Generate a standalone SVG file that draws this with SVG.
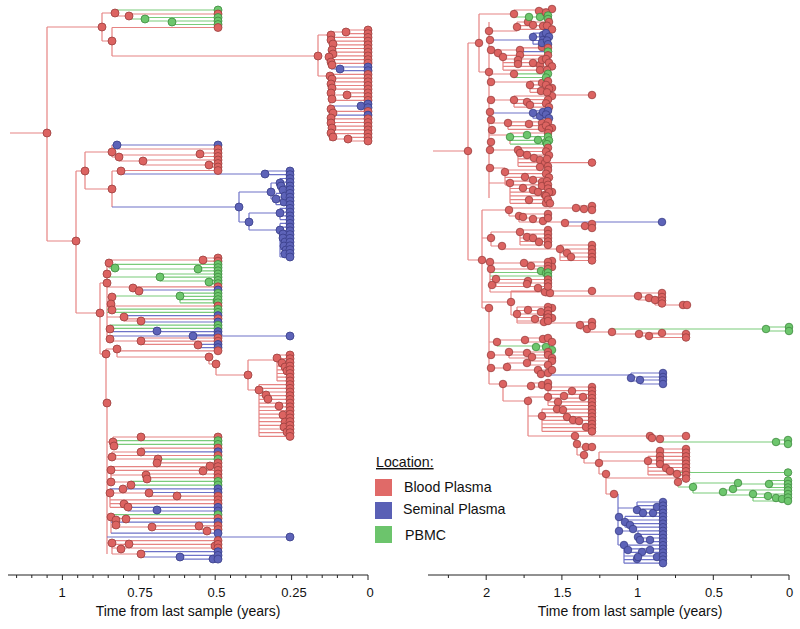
<svg xmlns="http://www.w3.org/2000/svg" width="800" height="629" viewBox="0 0 800 629">
<style>
path{fill:none;stroke-width:1.2}
.lr{stroke:#e68483}.lb{stroke:#6e73c8}.lg{stroke:#7acb7a}
.r{fill:#dc6361;stroke:#9b3f3e}.b{fill:#5d63b8;stroke:#383d88}.g{fill:#6dc66d;stroke:#3d8a3d}
circle{stroke-width:.8}
.ax{stroke:#222;stroke-width:1}
text{font-family:"Liberation Sans",Arial,sans-serif;fill:#111}
.tk{font-size:13px;text-anchor:middle}
.ti{font-size:14px;text-anchor:middle}
.lt{font-size:14.2px}
</style>
<rect width="800" height="629" fill="#fff"/>
<g id="left-connectors">
<path class="lr" d="M10,133H47M47,27V241M47,27H102M102,13V41M102,13H115M115,10V16M115,16H129M129,14V19M129,14H218M102,41H112M112,27.5V56M112,27.5H218M112,56H318M318,35V76M318,35H331M318,76H330M331,31V66M330,74V141M331,32H346M346,30V33.7M346,30H368M346,33.7H368M331,37.4H368M331,41.1H368M333,44.8H368M333,48.5H368M331,52.2H368M331,55.9H368M332,59.6H368M332,63.3H368M330,74.4H368M331,78.1H368M331,81.8H368M332,85.5H368M331,89.2H368M330,95H347M347,92.9V96.6M347,92.9H368M347,96.6H368M331,100.3H368M331,111.4H368M331,118.8H368M332,122.5H368M331,126.2H368M331,129.9H368M332,133.6H368M330,139H348M348,137.3V141M348,137.3H368M348,141H368M47,241H76M76,171V313M76,171H85M85,152V189M85,152H112M112,145V157M112,157H119M119,155V161M119,155H200M200,153V156.5M200,153H218M200,156.5H218M119,161H143M143,160V165M143,160H218M143,165H209M209,163.5V167M209,163.5H218M209,167H218M117,149H218M85,189H112M112,171V207M112,171H121M121,170.5V174M121,170.5H218M76,313H100M100,283V354M100,283H107M107,263V339M100,354H106M106,349V403M106,349H117M106,403H107M107,263H109M109,260V268M109,260H203M203,258V261.2M203,258H218M203,261.2H218M107,287H133M133,286.8V291M133,286.8H218M133,291H139M107,297H112M107,306H218M107,317H124M124,315.6V321M124,318.8H218M124,321H141M107,329H110M110,325.2V331.6M107,339H110M110,336V341M110,341H141M141,338V344.4M141,338H218M141,341.2H218M141,344.4H198M117,349V357M117,350.8H218M117,357H209M209,357V364M209,364H216M216,364V375M216,375H248M248,360V390M248,360H277M277,355V380.9M277,355H290M277,358.7H290M277,362.4H290M277,366.1H290M277,369.8H290M277,373.5H290M277,377.2H290M277,380.9H290M248,390H259M259,384.6V436.4M259,384.6H290M259,388.3H290M259,392H290M259,395.7H290M259,399.4H290M259,403.1H290M259,406.8H290M259,410.5H290M259,414.2H290M259,417.9H290M259,421.6H290M259,425.3H290M259,429H290M259,432.7H290M259,436.4H290M107,403V554M107,442H113M113,437V446M113,437H218M107,457H112M112,452V459M112,452H141M141,448.1V451.8M141,448.1H218M112,455.5H218M112,459H158M158,459.2V462.9M157,462.9H218M107,470H111M111,466.6V482M111,466.6H218M111,470.3H218M111,475H146M146,474V477.7M146,474H218M146,477.7H218M111,482H131M131,481.4V485.1M107,493H110M110,488.8V507.3M110,493H149M149,492.5V496.2M149,496.2H218M110,499.9H218M110,503.6H218M110,507.3H128M128,507.3V511M107,517H111M111,514.7V533.2M111,518.4H218M111,527H152M152,525.8V529.5M152,525.8H218M152,529.5H218M107,543H112M112,540.6V554M112,540.6H218M112,544.3H218M112,548H218M112,554H141M141,551.7V557"/>
<path class="lb" d="M331,69H340M340,67V70.7M340,67H368M340,70.7H368M331,106H361M361,104V107.7M361,104H368M361,107.7H368M330,115.1H368M112,145H117M117,145V149M117,145H218M121,174H265M265,171V174.7M265,171H290M265,174.7H290M112,207H239M239,192V222M239,192H271M271,183V199M271,183H280M280,178.5V189.7M280,178.5H290M280,182.2H290M280,186H290M280,189.7H290M271,199H276M276,193.4V204.7M276,193.4H290M276,197.2H290M276,200.9H290M276,204.7H290M239,222H249M249,213V230M249,213H280M280,208.4V219.6M280,208.4H290M280,212.1H290M280,215.9H290M280,219.6H290M249,230H280M280,223.4V257M280,223.4H290M280,227.1H290M280,230.8H290M280,234.6H290M280,238.3H290M280,242.1H290M280,245.8H290M280,249.5H290M280,253.3H290M280,257H290M139,290H218M124,315.6H218M141,322H218M110,331.6H218M110,336H193M193,334.8V336M193,334.8H218M193,336H290M198,344.4H218M198,344.4V347.6M198,347.6H218M141,451.8H218M110,488.8H218M149,492.5H218M128,507.3H218M128,511H218M111,522.1H218M111,533.2H218M107,537H290M141,551.7H218M141,557H180M180,555.4V559.1M180,555.4H218M180,559.1H218"/>
<path class="lg" d="M115,10H218M129,19H145M145,17.5V21M145,17.5H218M145,21H172M172,21V24.5M172,21H218M172,24.5H218M109,268H115M115,264.4V271M115,264.4H218M115,269H198M198,267.6V270.8M198,267.6H218M198,270.8H218M107,277H160M160,274V281M160,274H218M160,277.2H218M160,281H209M209,280.4V283.6M209,280.4H218M209,283.6H218M112,296H180M180,293.2V302.8M180,293.2H218M180,296.4H218M180,299.6H218M180,302.8H218M107,309.2H218M107,312.4H218M110,325.2H218M110,328.4H218M113,440.7H218M114,444.4H218M158,459.2H218M131,481.4H218M131,485.1H218M111,514.7H218"/>
</g>
<g id="right-connectors">
<path class="lr" d="M433,151H468M468,43V260M468,43H479M479,14V72M479,14H514M514,10V17M514,10H539M539,9V12.5M539,9H552M539,12.5H546M479,72H489M489,22V198M489,31H517M517,22V29.4M517,22H549M517,25.7H547M517,29.4H552M489,50H520M520,47.9V51.6M520,47.9H548M489,53H498M498,53V57M498,57H503M503,55.3V70.1M503,55.3H548M503,59H546M503,62.7H549M503,66.4H552M503,70.1H547M489,74H514M514,73.8V77.5M489,82H530M530,81.2V92.3M530,81.2H548M530,84.9H546M530,88.6H549M530,92.3H547M489,100H514M514,96V107.1M514,96H552M552,95H592M514,99.7H548M514,103.4H546M514,107.1H549M489,123H508M508,121.9V129.3M508,121.9H548M508,125.6H546M508,129.3H549M489,135H510M510,133V144.1M510,133H548M489,150H518M518,147.8V166.3M518,147.8H548M518,151.5H546M518,155.2H549M518,158.9H547M518,162.6H592M518,166.3H548M489,168H505M505,168V184.8M505,170H548M505,173.7H546M505,177.4H549M505,181.1H547M505,184.8H548M489,183H510M510,183V203.3M510,188.5H548M510,192.2H549M510,195.9H546M510,199.6H548M510,203.3H550M468,260H482M482,210V308M482,210H509M509,208V216M509,208H576M576,206V210M576,206H592M576,210H592M509,216H519M519,214V222M519,214H548M519,218H548M519,222H565M565,222V226M565,226H585M585,224V228M585,224H592M585,228H592M482,238H491M491,232V246M491,232H520M520,230V245M520,230H548M520,234H548M520,238H548M520,241.5H548M520,245H548M491,246H502M502,246V249M502,249H560M560,245V260.5M560,245H592M560,249H592M560,253H592M560,257H592M560,260.5H592M482,262H490M490,262V292M490,263H524M524,262V266M524,262H548M524,266H548M490,269H548M490,279.5H496M496,279.5V286.5M496,279.5H548M496,283H548M496,286.5H548M490,292H545M545,290V296M545,290H550M545,296H638M638,293V300M638,293H662M638,297H662M638,300H655M655,300V305M655,300.5H662M655,303.5H662M655,305H687M482,302H511M511,291V315M511,291H592M511,315H517M517,307V323M517,307H548M517,310.5H548M517,314H548M517,317.5H548M517,321H548M517,323H580M580,322V329M580,322H592M580,326H592M580,329H587M587,329V332M587,332H612M612,329V334M612,334H639M639,333V336M639,333H662M639,336H649M649,334V337.5M649,334H686M649,337.5H686M482,308H489M489,308V384M489,342H497M497,340V346M497,340H525M525,338V342M525,338H548M525,342H552M489,355H509M509,352V358M509,352H548M509,355H548M509,358H552M489,368H507M507,363V370M507,363H527M527,361V365M527,361H552M527,365H548M507,370H538M538,370V374M538,370H552M538,374H541M489,384H503M503,384V401M503,386H531M531,383V387M531,383H548M531,387H548M503,401H528M528,397V436M528,397H548M548,387V405.5M548,387H592M548,390.7H592M548,394.4H592M548,398.1H592M548,401.8H592M548,405.5H592M528,416H542M542,409.2V431.4M542,409.2H592M542,412.9H592M542,416.6H592M542,420.3H592M542,424H592M542,427.7H592M542,431.4H592M528,436H575M575,436V444M575,436H660M660,436V442M660,436H686M575,444H577M577,444V455M577,447H592M577,455H584M584,455V463M584,463H599M599,452V474M599,452H660M660,449V452.7M660,449H686M660,452.7H686M599,461H648M648,456.4V474.9M648,456.4H686M648,460.1H686M648,463.8H686M648,467.5H686M648,471.2H686M648,474.9H686M666,468V472.5M599,474H606M606,474V494M606,478H678M678,478.6V487M678,478.6H686M606,494H614"/>
<path class="lb" d="M489,40H533M533,33.1V44.2M533,33.1H546M533,36.8H549M533,40.5H547M533,44.2H548M520,51.6H548M489,113H533M533,110.8V118.2M533,110.8H548M533,114.5H546M533,118.2H549M565,222H662M541,375H631M631,373V381M631,373H663M631,377H663M631,381H640M640,380V384M640,380H663M640,384H663M614,494H618M618,494V545M618,508H637M637,502V512.8M637,502H663M637,505.6H663M637,509.2H663M637,512.8H663M618,520H625M625,516.4V527.2M625,516.4H663M625,520H663M625,523.6H663M625,527.2H663M618,531H638M638,530.8V541.6M638,530.8H663M638,534.4H663M638,538H663M638,541.6H663M618,545H624M624,545.2V563.2M624,545.2H663M624,548.8H663M624,552.4H663M624,556H663M624,559.6H663M624,563.2H663"/>
<path class="lg" d="M514,17H529M529,17H540M540,15.5V19M540,15.5H548M540,19H548M514,73.8H548M514,77.5H546M510,136.7H548M510,140.4H549M510,144.1H547M490,272.5H548M490,276H548M612,329H766M766,327V331M766,327H789M766,331H789M497,346H536M536,346V350M536,346H548M536,350H552M660,442H776M776,440V444M776,440H788M776,444H788M666,472.5H788M678,487H693M693,483V493M693,483H738M738,484H769M769,480.5V487.5M769,480.5H788M769,484H788M769,487.5H788M693,493H723M723,490V495M723,490H788M723,495H753M753,494V501M753,494H788M753,497.5H788M753,501H788"/>
</g>
<g id="left-internal-nodes">
<g class="r">
<circle cx="47" cy="133" r="4"/><circle cx="102" cy="27" r="4"/><circle cx="115" cy="13" r="4"/><circle cx="129" cy="16" r="4"/><circle cx="112" cy="41" r="4"/><circle cx="318" cy="56" r="4"/>
<circle cx="331" cy="35" r="4"/><circle cx="331" cy="40" r="4"/><circle cx="333" cy="44" r="4"/><circle cx="332" cy="50" r="4"/><circle cx="333" cy="54" r="4"/><circle cx="329" cy="57" r="4"/><circle cx="331" cy="62" r="4"/><circle cx="332" cy="65" r="4"/><circle cx="330" cy="76" r="4"/><circle cx="332" cy="79" r="4"/><circle cx="331" cy="84" r="4"/><circle cx="332" cy="88" r="4"/><circle cx="331" cy="93" r="4"/><circle cx="332" cy="99" r="4"/><circle cx="331" cy="109" r="4"/><circle cx="333" cy="113" r="4"/><circle cx="331" cy="118" r="4"/><circle cx="331" cy="123" r="4"/><circle cx="332" cy="128" r="4"/><circle cx="331" cy="133" r="4"/><circle cx="333" cy="137" r="4"/><circle cx="346" cy="32" r="4"/><circle cx="347" cy="95" r="4"/><circle cx="348" cy="139" r="4"/>
<circle cx="76" cy="241" r="4"/><circle cx="85" cy="171" r="4"/><circle cx="112" cy="152" r="4"/><circle cx="119" cy="157" r="4"/><circle cx="200" cy="154" r="4"/><circle cx="143" cy="161" r="4"/><circle cx="209" cy="165" r="4"/><circle cx="112" cy="189" r="4"/><circle cx="121" cy="171" r="4"/>
<circle cx="100" cy="313" r="4"/><circle cx="107" cy="283" r="4"/><circle cx="106" cy="354" r="4"/><circle cx="109" cy="263" r="4"/><circle cx="203" cy="260" r="4"/><circle cx="107" cy="274" r="4"/><circle cx="133" cy="288" r="4"/><circle cx="139" cy="291" r="4"/><circle cx="112" cy="297" r="4"/><circle cx="111" cy="304" r="4"/><circle cx="112" cy="310" r="4"/><circle cx="124" cy="317" r="4"/><circle cx="141" cy="321" r="4"/><circle cx="110" cy="329" r="4"/><circle cx="110" cy="339" r="4"/><circle cx="141" cy="341" r="4"/><circle cx="198" cy="345" r="4"/><circle cx="117" cy="349" r="4"/><circle cx="209" cy="357" r="4"/><circle cx="216" cy="364" r="4"/><circle cx="248" cy="375" r="4"/>
<circle cx="277" cy="358" r="4"/><circle cx="282" cy="363" r="4"/><circle cx="285" cy="367" r="4"/><circle cx="287" cy="371" r="4"/><circle cx="259" cy="390" r="4"/><circle cx="266" cy="395" r="4"/><circle cx="268" cy="399" r="4"/><circle cx="279" cy="406" r="4"/><circle cx="283" cy="415" r="4"/><circle cx="285" cy="422" r="4"/><circle cx="284" cy="427" r="4"/><circle cx="287" cy="432" r="4"/>
<circle cx="107" cy="403" r="4"/><circle cx="113" cy="442" r="4"/><circle cx="141" cy="437" r="4"/><circle cx="114" cy="446" r="4"/><circle cx="112" cy="457" r="4"/><circle cx="141" cy="452" r="4"/><circle cx="158" cy="459" r="4"/><circle cx="157" cy="463" r="4"/><circle cx="111" cy="470" r="4"/><circle cx="210" cy="466" r="4"/><circle cx="203" cy="471" r="4"/><circle cx="146" cy="475" r="4"/><circle cx="147" cy="479" r="4"/><circle cx="111" cy="482" r="4"/><circle cx="131" cy="485" r="4"/><circle cx="110" cy="493" r="4"/><circle cx="123" cy="489" r="4"/><circle cx="149" cy="493" r="4"/><circle cx="177" cy="496" r="4"/><circle cx="124" cy="504" r="4"/><circle cx="128" cy="507" r="4"/><circle cx="111" cy="517" r="4"/><circle cx="126" cy="519" r="4"/><circle cx="116" cy="520" r="4"/><circle cx="116" cy="525" r="4"/><circle cx="152" cy="527" r="4"/><circle cx="199" cy="526" r="4"/><circle cx="207" cy="531" r="4"/><circle cx="112" cy="543" r="4"/><circle cx="129" cy="544" r="4"/><circle cx="215" cy="546" r="4"/><circle cx="121" cy="549" r="4"/><circle cx="141" cy="554" r="4"/>
</g>
<g class="b">
<circle cx="340" cy="69" r="4"/><circle cx="361" cy="106" r="4"/><circle cx="117" cy="145" r="4"/><circle cx="265" cy="174" r="4"/><circle cx="239" cy="207" r="4"/><circle cx="271" cy="192" r="4"/><circle cx="280" cy="183" r="4"/><circle cx="276" cy="199" r="4"/><circle cx="284" cy="202" r="4"/><circle cx="249" cy="222" r="4"/><circle cx="280" cy="213" r="4"/><circle cx="280" cy="230" r="4"/><circle cx="283" cy="234" r="4"/><circle cx="283" cy="238" r="4"/><circle cx="285" cy="242" r="4"/><circle cx="284" cy="246" r="4"/><circle cx="286" cy="250" r="4"/><circle cx="285" cy="254" r="4"/><circle cx="281" cy="186" r="4"/><circle cx="283" cy="190" r="4"/><circle cx="285" cy="196" r="4"/>
<circle cx="157" cy="331" r="4"/><circle cx="193" cy="336" r="4"/><circle cx="157" cy="510" r="4"/><circle cx="180" cy="557" r="4"/><circle cx="213" cy="559" r="4"/>
</g>
<g class="g">
<circle cx="145" cy="19" r="4"/><circle cx="172" cy="22" r="4"/><circle cx="115" cy="268" r="4"/><circle cx="198" cy="269" r="4"/><circle cx="160" cy="277" r="4"/><circle cx="209" cy="282" r="4"/><circle cx="180" cy="296" r="4"/><circle cx="217" cy="301" r="4"/>
</g>
</g>
<g id="left-tips">
<circle class="g" cx="218" cy="10" r="4"/><circle class="r" cx="218" cy="14" r="4"/><circle class="g" cx="218" cy="17.5" r="4"/><circle class="g" cx="218" cy="21" r="4"/><circle class="g" cx="218" cy="24.5" r="4"/><circle class="r" cx="218" cy="27.5" r="4"/>
<circle class="r" cx="368" cy="30" r="4"/><circle class="r" cx="368" cy="33.7" r="4"/><circle class="r" cx="368" cy="37.4" r="4"/><circle class="r" cx="368" cy="41.1" r="4"/><circle class="r" cx="368" cy="44.8" r="4"/><circle class="r" cx="368" cy="48.5" r="4"/><circle class="r" cx="368" cy="52.2" r="4"/><circle class="r" cx="368" cy="55.9" r="4"/><circle class="r" cx="368" cy="59.6" r="4"/><circle class="r" cx="368" cy="63.3" r="4"/><circle class="b" cx="368" cy="67" r="4"/><circle class="b" cx="368" cy="70.7" r="4"/><circle class="r" cx="368" cy="74.4" r="4"/><circle class="r" cx="368" cy="78.1" r="4"/><circle class="r" cx="368" cy="81.8" r="4"/><circle class="r" cx="368" cy="85.5" r="4"/><circle class="r" cx="368" cy="89.2" r="4"/><circle class="r" cx="368" cy="92.9" r="4"/><circle class="r" cx="368" cy="96.6" r="4"/><circle class="r" cx="368" cy="100.3" r="4"/><circle class="b" cx="368" cy="104" r="4"/><circle class="b" cx="368" cy="107.7" r="4"/><circle class="r" cx="368" cy="111.4" r="4"/><circle class="b" cx="368" cy="115.1" r="4"/><circle class="r" cx="368" cy="118.8" r="4"/><circle class="r" cx="368" cy="122.5" r="4"/><circle class="r" cx="368" cy="126.2" r="4"/><circle class="r" cx="368" cy="129.9" r="4"/><circle class="r" cx="368" cy="133.6" r="4"/><circle class="r" cx="368" cy="137.3" r="4"/><circle class="r" cx="368" cy="141" r="4"/>
<circle class="b" cx="218" cy="145" r="4"/><circle class="r" cx="218" cy="149" r="4"/><circle class="r" cx="218" cy="153" r="4"/><circle class="r" cx="218" cy="156.5" r="4"/><circle class="r" cx="218" cy="160" r="4"/><circle class="r" cx="218" cy="163.5" r="4"/><circle class="r" cx="218" cy="167" r="4"/><circle class="r" cx="218" cy="170.5" r="4"/>
<g class="b"><circle cx="290" cy="171" r="4"/><circle cx="290" cy="174.7" r="4"/><circle cx="290" cy="178.5" r="4"/><circle cx="290" cy="182.2" r="4"/><circle cx="290" cy="186" r="4"/><circle cx="290" cy="189.7" r="4"/><circle cx="290" cy="193.4" r="4"/><circle cx="290" cy="197.2" r="4"/><circle cx="290" cy="200.9" r="4"/><circle cx="290" cy="204.7" r="4"/><circle cx="290" cy="208.4" r="4"/><circle cx="290" cy="212.1" r="4"/><circle cx="290" cy="215.9" r="4"/><circle cx="290" cy="219.6" r="4"/><circle cx="290" cy="223.4" r="4"/><circle cx="290" cy="227.1" r="4"/><circle cx="290" cy="230.8" r="4"/><circle cx="290" cy="234.6" r="4"/><circle cx="290" cy="238.3" r="4"/><circle cx="290" cy="242.1" r="4"/><circle cx="290" cy="245.8" r="4"/><circle cx="290" cy="249.5" r="4"/><circle cx="290" cy="253.3" r="4"/><circle cx="290" cy="257" r="4"/><circle cx="290" cy="336" r="4"/><circle cx="290" cy="537" r="4"/></g>
<circle class="r" cx="218" cy="258" r="4"/><circle class="r" cx="218" cy="261.2" r="4"/><circle class="g" cx="218" cy="264.4" r="4"/><circle class="g" cx="218" cy="267.6" r="4"/><circle class="g" cx="218" cy="270.8" r="4"/><circle class="g" cx="218" cy="274" r="4"/><circle class="g" cx="218" cy="277.2" r="4"/><circle class="g" cx="218" cy="280.4" r="4"/><circle class="g" cx="218" cy="283.6" r="4"/><circle class="r" cx="218" cy="286.8" r="4"/><circle class="b" cx="218" cy="290" r="4"/><circle class="g" cx="218" cy="293.2" r="4"/><circle class="g" cx="218" cy="296.4" r="4"/><circle class="g" cx="218" cy="299.6" r="4"/><circle class="g" cx="218" cy="302.8" r="4"/><circle class="r" cx="218" cy="306" r="4"/><circle class="g" cx="218" cy="309.2" r="4"/><circle class="g" cx="218" cy="312.4" r="4"/><circle class="b" cx="218" cy="315.6" r="4"/><circle class="r" cx="218" cy="318.8" r="4"/><circle class="b" cx="218" cy="322" r="4"/><circle class="g" cx="218" cy="325.2" r="4"/><circle class="g" cx="218" cy="328.4" r="4"/><circle class="b" cx="218" cy="331.6" r="4"/><circle class="b" cx="218" cy="334.8" r="4"/><circle class="r" cx="218" cy="338" r="4"/><circle class="r" cx="218" cy="341.2" r="4"/><circle class="b" cx="218" cy="344.4" r="4"/><circle class="b" cx="218" cy="347.6" r="4"/><circle class="r" cx="218" cy="350.8" r="4"/>
<g class="r"><circle cx="290" cy="355" r="4"/><circle cx="290" cy="358.7" r="4"/><circle cx="290" cy="362.4" r="4"/><circle cx="290" cy="366.1" r="4"/><circle cx="290" cy="369.8" r="4"/><circle cx="290" cy="373.5" r="4"/><circle cx="290" cy="377.2" r="4"/><circle cx="290" cy="380.9" r="4"/><circle cx="290" cy="384.6" r="4"/><circle cx="290" cy="388.3" r="4"/><circle cx="290" cy="392" r="4"/><circle cx="290" cy="395.7" r="4"/><circle cx="290" cy="399.4" r="4"/><circle cx="290" cy="403.1" r="4"/><circle cx="290" cy="406.8" r="4"/><circle cx="290" cy="410.5" r="4"/><circle cx="290" cy="414.2" r="4"/><circle cx="290" cy="417.9" r="4"/><circle cx="290" cy="421.6" r="4"/><circle cx="290" cy="425.3" r="4"/><circle cx="290" cy="429" r="4"/><circle cx="290" cy="432.7" r="4"/><circle cx="290" cy="436.4" r="4"/></g>
<circle class="r" cx="218" cy="437" r="4"/><circle class="g" cx="218" cy="440.7" r="4"/><circle class="g" cx="218" cy="444.4" r="4"/><circle class="r" cx="218" cy="448.1" r="4"/><circle class="b" cx="218" cy="451.8" r="4"/><circle class="r" cx="218" cy="455.5" r="4"/><circle class="g" cx="218" cy="459.2" r="4"/><circle class="r" cx="218" cy="462.9" r="4"/><circle class="r" cx="218" cy="466.6" r="4"/><circle class="r" cx="218" cy="470.3" r="4"/><circle class="r" cx="218" cy="474" r="4"/><circle class="r" cx="218" cy="477.7" r="4"/><circle class="g" cx="218" cy="481.4" r="4"/><circle class="g" cx="218" cy="485.1" r="4"/><circle class="b" cx="218" cy="488.8" r="4"/><circle class="b" cx="218" cy="492.5" r="4"/><circle class="r" cx="218" cy="496.2" r="4"/><circle class="r" cx="218" cy="499.9" r="4"/><circle class="r" cx="218" cy="503.6" r="4"/><circle class="b" cx="218" cy="507.3" r="4"/><circle class="b" cx="218" cy="511" r="4"/><circle class="g" cx="218" cy="514.7" r="4"/><circle class="r" cx="218" cy="518.4" r="4"/><circle class="b" cx="218" cy="522.1" r="4"/><circle class="r" cx="218" cy="525.8" r="4"/><circle class="r" cx="218" cy="529.5" r="4"/><circle class="b" cx="218" cy="533.2" r="4"/><circle class="r" cx="218" cy="540.6" r="4"/><circle class="r" cx="218" cy="544.3" r="4"/><circle class="r" cx="218" cy="548" r="4"/><circle class="b" cx="218" cy="551.7" r="4"/><circle class="b" cx="218" cy="555.4" r="4"/><circle class="b" cx="218" cy="559.1" r="4"/>
</g>
<g id="right-internal-nodes">
<g class="r">
<circle cx="468" cy="151" r="3.8"/><circle cx="479" cy="43" r="3.8"/><circle cx="514" cy="14" r="3.8"/><circle cx="539" cy="11" r="3.8"/><circle cx="489" cy="72" r="3.8"/>
<circle cx="489" cy="31" r="3.8"/><circle cx="517" cy="27" r="3.8"/><circle cx="528" cy="22" r="3.8"/><circle cx="533" cy="25" r="3.8"/><circle cx="543" cy="26" r="3.8"/><circle cx="490" cy="40" r="3.8"/><circle cx="542" cy="47" r="3.8"/><circle cx="491" cy="50" r="3.8"/><circle cx="520" cy="50" r="3.8"/><circle cx="498" cy="53" r="3.8"/><circle cx="503" cy="57" r="3.8"/><circle cx="520" cy="55" r="3.8"/><circle cx="518" cy="60" r="3.8"/><circle cx="533" cy="63" r="3.8"/><circle cx="540" cy="65" r="3.8"/><circle cx="542" cy="60" r="3.8"/><circle cx="540" cy="70" r="3.8"/><circle cx="518" cy="64" r="3.8"/><circle cx="514" cy="74" r="3.8"/><circle cx="491" cy="82" r="3.8"/><circle cx="530" cy="85" r="3.8"/><circle cx="542" cy="83" r="3.8"/><circle cx="552" cy="88" r="3.8"/><circle cx="541" cy="91" r="3.8"/><circle cx="491" cy="100" r="3.8"/><circle cx="514" cy="100" r="3.8"/><circle cx="527" cy="102" r="3.8"/><circle cx="530" cy="105" r="3.8"/><circle cx="552" cy="96" r="3.8"/><circle cx="490" cy="112" r="3.8"/><circle cx="491" cy="120" r="3.8"/><circle cx="508" cy="123" r="3.8"/><circle cx="529" cy="124" r="3.8"/><circle cx="542" cy="123" r="3.8"/><circle cx="542" cy="128" r="3.8"/><circle cx="552" cy="128" r="3.8"/><circle cx="492" cy="130" r="3.8"/><circle cx="491" cy="142" r="3.8"/><circle cx="490" cy="150" r="3.8"/><circle cx="518" cy="150" r="3.8"/><circle cx="520" cy="153" r="3.8"/><circle cx="527" cy="155" r="3.8"/><circle cx="534" cy="158" r="3.8"/><circle cx="540" cy="160" r="3.8"/><circle cx="545" cy="163" r="3.8"/><circle cx="540" cy="167" r="3.8"/><circle cx="490" cy="168" r="3.8"/><circle cx="505" cy="172" r="3.8"/><circle cx="525" cy="177" r="3.8"/><circle cx="533" cy="180" r="3.8"/><circle cx="542" cy="182" r="3.8"/><circle cx="542" cy="186" r="3.8"/><circle cx="510" cy="183" r="3.8"/><circle cx="523" cy="188" r="3.8"/><circle cx="533" cy="190" r="3.8"/><circle cx="538" cy="192" r="3.8"/><circle cx="545" cy="195" r="3.8"/><circle cx="552" cy="192" r="3.8"/><circle cx="529" cy="200" r="3.8"/><circle cx="546" cy="203" r="3.8"/>
<circle cx="482" cy="260" r="3.8"/><circle cx="509" cy="210" r="3.8"/><circle cx="576" cy="208" r="3.8"/><circle cx="584" cy="209" r="3.8"/><circle cx="519" cy="216" r="3.8"/><circle cx="523" cy="217" r="3.8"/><circle cx="533" cy="219" r="3.8"/><circle cx="543" cy="221" r="3.8"/><circle cx="565" cy="223" r="3.8"/><circle cx="585" cy="226" r="3.8"/><circle cx="491" cy="238" r="3.8"/><circle cx="520" cy="232" r="3.8"/><circle cx="527" cy="237" r="3.8"/><circle cx="533" cy="238" r="3.8"/><circle cx="539" cy="242" r="3.8"/><circle cx="502" cy="246" r="3.8"/><circle cx="560" cy="249" r="3.8"/><circle cx="567" cy="253" r="3.8"/><circle cx="571" cy="257" r="3.8"/><circle cx="490" cy="262" r="3.8"/><circle cx="524" cy="263" r="3.8"/><circle cx="531" cy="266" r="3.8"/><circle cx="552" cy="261" r="3.8"/><circle cx="552" cy="267" r="3.8"/><circle cx="491" cy="269" r="3.8"/><circle cx="496" cy="279" r="3.8"/><circle cx="528" cy="281" r="3.8"/><circle cx="527" cy="284" r="3.8"/><circle cx="538" cy="288" r="3.8"/><circle cx="492" cy="285" r="3.8"/><circle cx="545" cy="292" r="3.8"/><circle cx="550" cy="293" r="3.8"/><circle cx="638" cy="296" r="3.8"/><circle cx="649" cy="298" r="3.8"/><circle cx="655" cy="300" r="3.8"/><circle cx="683" cy="305" r="3.8"/>
<circle cx="511" cy="302" r="3.8"/><circle cx="517" cy="314" r="3.8"/><circle cx="528" cy="310" r="3.8"/><circle cx="541" cy="312" r="3.8"/><circle cx="552" cy="308" r="3.8"/><circle cx="547" cy="316" r="3.8"/><circle cx="552" cy="318" r="3.8"/><circle cx="535" cy="319" r="3.8"/><circle cx="544" cy="322" r="3.8"/><circle cx="580" cy="325" r="3.8"/><circle cx="587" cy="329" r="3.8"/><circle cx="612" cy="332" r="3.8"/><circle cx="639" cy="334" r="3.8"/><circle cx="649" cy="336" r="3.8"/>
<circle cx="489" cy="308" r="3.8"/><circle cx="497" cy="342" r="3.8"/><circle cx="525" cy="340" r="3.8"/><circle cx="543" cy="339" r="3.8"/><circle cx="491" cy="355" r="3.8"/><circle cx="509" cy="352" r="3.8"/><circle cx="527" cy="353" r="3.8"/><circle cx="532" cy="357" r="3.8"/><circle cx="491" cy="368" r="3.8"/><circle cx="507" cy="367" r="3.8"/><circle cx="527" cy="363" r="3.8"/><circle cx="538" cy="370" r="3.8"/><circle cx="541" cy="374" r="3.8"/><circle cx="548" cy="373" r="3.8"/><circle cx="503" cy="384" r="3.8"/><circle cx="531" cy="386" r="3.8"/><circle cx="542" cy="385" r="3.8"/><circle cx="528" cy="401" r="3.8"/><circle cx="548" cy="397" r="3.8"/><circle cx="558" cy="402" r="3.8"/><circle cx="564" cy="396" r="3.8"/><circle cx="572" cy="391" r="3.8"/><circle cx="583" cy="397" r="3.8"/><circle cx="542" cy="416" r="3.8"/><circle cx="557" cy="409" r="3.8"/><circle cx="563" cy="410" r="3.8"/><circle cx="567" cy="417" r="3.8"/><circle cx="573" cy="420" r="3.8"/><circle cx="579" cy="421" r="3.8"/><circle cx="586" cy="427" r="3.8"/><circle cx="575" cy="436" r="3.8"/><circle cx="650" cy="436" r="3.8"/><circle cx="652" cy="438" r="3.8"/><circle cx="660" cy="439" r="3.8"/><circle cx="577" cy="444" r="3.8"/><circle cx="586" cy="447" r="3.8"/><circle cx="584" cy="455" r="3.8"/><circle cx="599" cy="463" r="3.8"/><circle cx="660" cy="451" r="3.8"/><circle cx="648" cy="461" r="3.8"/><circle cx="660" cy="456" r="3.8"/><circle cx="660" cy="460" r="3.8"/><circle cx="660" cy="464" r="3.8"/><circle cx="666" cy="468" r="3.8"/><circle cx="670" cy="471" r="3.8"/><circle cx="677" cy="474" r="3.8"/><circle cx="606" cy="474" r="3.8"/><circle cx="678" cy="482" r="3.8"/><circle cx="614" cy="494" r="3.8"/>
</g>
<g class="b">
<circle cx="533" cy="37" r="3.8"/><circle cx="543" cy="35" r="3.8"/><circle cx="543" cy="40" r="3.8"/><circle cx="542" cy="43" r="3.8"/><circle cx="533" cy="113" r="3.8"/><circle cx="540" cy="116" r="3.8"/><circle cx="543" cy="112" r="3.8"/><circle cx="631" cy="378" r="3.8"/><circle cx="640" cy="380" r="3.8"/>
<circle cx="637" cy="510" r="3.8"/><circle cx="643" cy="513" r="3.8"/><circle cx="653" cy="513" r="3.8"/><circle cx="657" cy="507" r="3.8"/><circle cx="619" cy="517" r="3.8"/><circle cx="625" cy="522" r="3.8"/><circle cx="630" cy="525" r="3.8"/><circle cx="633" cy="529" r="3.8"/><circle cx="619" cy="531" r="3.8"/><circle cx="638" cy="537" r="3.8"/><circle cx="640" cy="540" r="3.8"/><circle cx="650" cy="540" r="3.8"/><circle cx="624" cy="545" r="3.8"/><circle cx="628" cy="550" r="3.8"/><circle cx="642" cy="552" r="3.8"/><circle cx="650" cy="550" r="3.8"/><circle cx="637" cy="559" r="3.8"/><circle cx="638" cy="557" r="3.8"/><circle cx="657" cy="557" r="3.8"/>
</g>
<g class="g">
<circle cx="529" cy="17" r="3.8"/><circle cx="540" cy="17" r="3.8"/><circle cx="510" cy="137" r="3.8"/><circle cx="527" cy="135" r="3.8"/><circle cx="538" cy="140" r="3.8"/><circle cx="546" cy="142" r="3.8"/><circle cx="541" cy="271" r="3.8"/><circle cx="546" cy="273" r="3.8"/><circle cx="766" cy="329" r="3.8"/><circle cx="536" cy="347" r="3.8"/><circle cx="546" cy="347" r="3.8"/><circle cx="776" cy="442" r="3.8"/><circle cx="693" cy="487" r="3.8"/><circle cx="738" cy="483" r="3.8"/><circle cx="769" cy="484" r="3.8"/><circle cx="723" cy="492" r="3.8"/><circle cx="733" cy="489" r="3.8"/><circle cx="753" cy="494" r="3.8"/><circle cx="768" cy="496" r="3.8"/><circle cx="776" cy="498" r="3.8"/><circle cx="782" cy="499" r="3.8"/>
</g>
</g>
<g id="right-tips">
<circle class="r" cx="552" cy="9" r="3.8"/><circle class="r" cx="546" cy="12.5" r="3.8"/><circle class="g" cx="548" cy="15.5" r="3.8"/><circle class="g" cx="548" cy="19" r="3.8"/>
<circle class="r" cx="549" cy="22" r="3.8"/><circle class="r" cx="547" cy="25.7" r="3.8"/><circle class="r" cx="552" cy="29.4" r="3.8"/><circle class="b" cx="546" cy="33.1" r="3.8"/><circle class="b" cx="549" cy="36.8" r="3.8"/><circle class="b" cx="547" cy="40.5" r="3.8"/><circle class="b" cx="548" cy="44.2" r="3.8"/><circle class="r" cx="548" cy="47.9" r="3.8"/><circle class="g" cx="548" cy="51.6" r="3.8"/><circle class="r" cx="548" cy="55.3" r="3.8"/><circle class="r" cx="546" cy="59" r="3.8"/><circle class="r" cx="549" cy="62.7" r="3.8"/><circle class="r" cx="552" cy="66.4" r="3.8"/><circle class="r" cx="547" cy="70.1" r="3.8"/><circle class="g" cx="548" cy="73.8" r="3.8"/><circle class="g" cx="546" cy="77.5" r="3.8"/><circle class="r" cx="548" cy="81.2" r="3.8"/><circle class="r" cx="546" cy="84.9" r="3.8"/><circle class="r" cx="549" cy="88.6" r="3.8"/><circle class="r" cx="547" cy="92.3" r="3.8"/><circle class="r" cx="592" cy="95" r="3.8"/><circle class="r" cx="548" cy="99.7" r="3.8"/><circle class="r" cx="546" cy="103.4" r="3.8"/><circle class="r" cx="549" cy="107.1" r="3.8"/><circle class="b" cx="548" cy="110.8" r="3.8"/><circle class="b" cx="546" cy="114.5" r="3.8"/><circle class="b" cx="549" cy="118.2" r="3.8"/><circle class="r" cx="548" cy="121.9" r="3.8"/><circle class="r" cx="546" cy="125.6" r="3.8"/><circle class="r" cx="549" cy="129.3" r="3.8"/><circle class="r" cx="548" cy="133" r="3.8"/><circle class="g" cx="548" cy="136.7" r="3.8"/><circle class="g" cx="549" cy="140.4" r="3.8"/><circle class="g" cx="547" cy="144.1" r="3.8"/><circle class="r" cx="548" cy="147.8" r="3.8"/><circle class="r" cx="546" cy="151.5" r="3.8"/><circle class="r" cx="549" cy="155.2" r="3.8"/><circle class="r" cx="547" cy="158.9" r="3.8"/><circle class="r" cx="592" cy="162.6" r="3.8"/><circle class="r" cx="548" cy="166.3" r="3.8"/><circle class="r" cx="548" cy="170" r="3.8"/><circle class="r" cx="546" cy="173.7" r="3.8"/><circle class="r" cx="549" cy="177.4" r="3.8"/><circle class="r" cx="547" cy="181.1" r="3.8"/><circle class="r" cx="548" cy="184.8" r="3.8"/><circle class="r" cx="548" cy="188.5" r="3.8"/><circle class="r" cx="549" cy="192.2" r="3.8"/><circle class="r" cx="546" cy="195.9" r="3.8"/><circle class="r" cx="548" cy="199.6" r="3.8"/><circle class="r" cx="550" cy="203.3" r="3.8"/>
<circle class="r" cx="592" cy="206" r="3.8"/><circle class="r" cx="592" cy="210" r="3.8"/><circle class="r" cx="548" cy="214" r="3.8"/><circle class="r" cx="548" cy="218" r="3.8"/><circle class="b" cx="662" cy="222" r="3.8"/><circle class="r" cx="592" cy="224" r="3.8"/><circle class="r" cx="592" cy="228" r="3.8"/><circle class="r" cx="548" cy="230" r="3.8"/><circle class="r" cx="548" cy="234" r="3.8"/><circle class="r" cx="548" cy="238" r="3.8"/><circle class="r" cx="548" cy="241.5" r="3.8"/><circle class="r" cx="548" cy="245" r="3.8"/><circle class="r" cx="592" cy="245" r="3.8"/><circle class="r" cx="592" cy="249" r="3.8"/><circle class="r" cx="592" cy="253" r="3.8"/><circle class="r" cx="592" cy="257" r="3.8"/><circle class="r" cx="592" cy="260.5" r="3.8"/><circle class="r" cx="548" cy="262" r="3.8"/><circle class="r" cx="548" cy="266" r="3.8"/><circle class="r" cx="548" cy="269" r="3.8"/><circle class="g" cx="548" cy="272.5" r="3.8"/><circle class="g" cx="548" cy="276" r="3.8"/><circle class="r" cx="548" cy="279.5" r="3.8"/><circle class="r" cx="548" cy="283" r="3.8"/><circle class="r" cx="548" cy="286.5" r="3.8"/><circle class="r" cx="592" cy="291" r="3.8"/><circle class="r" cx="662" cy="293" r="3.8"/><circle class="r" cx="662" cy="297" r="3.8"/><circle class="r" cx="662" cy="300.5" r="3.8"/><circle class="r" cx="662" cy="303.5" r="3.8"/><circle class="r" cx="687" cy="305" r="3.8"/>
<circle class="r" cx="548" cy="307" r="3.8"/><circle class="r" cx="548" cy="310.5" r="3.8"/><circle class="r" cx="548" cy="314" r="3.8"/><circle class="r" cx="548" cy="317.5" r="3.8"/><circle class="r" cx="548" cy="321" r="3.8"/><circle class="r" cx="592" cy="322" r="3.8"/><circle class="r" cx="592" cy="326" r="3.8"/><circle class="g" cx="789" cy="327" r="3.8"/><circle class="g" cx="789" cy="331" r="3.8"/><circle class="r" cx="662" cy="333" r="3.8"/><circle class="r" cx="686" cy="334" r="3.8"/><circle class="r" cx="686" cy="337.5" r="3.8"/>
<circle class="r" cx="548" cy="338" r="3.8"/><circle class="r" cx="552" cy="342" r="3.8"/><circle class="g" cx="552" cy="350" r="3.8"/><circle class="r" cx="548" cy="352" r="3.8"/><circle class="r" cx="548" cy="355" r="3.8"/><circle class="r" cx="552" cy="358" r="3.8"/><circle class="r" cx="552" cy="361" r="3.8"/><circle class="r" cx="548" cy="365" r="3.8"/><circle class="r" cx="552" cy="370" r="3.8"/><circle class="b" cx="663" cy="373" r="3.8"/><circle class="b" cx="663" cy="377" r="3.8"/><circle class="b" cx="663" cy="380" r="3.8"/><circle class="b" cx="663" cy="384" r="3.8"/><circle class="r" cx="548" cy="383" r="3.8"/><circle class="r" cx="548" cy="387" r="3.8"/>
<g class="r"><circle cx="592" cy="387" r="3.8"/><circle cx="592" cy="390.7" r="3.8"/><circle cx="592" cy="394.4" r="3.8"/><circle cx="592" cy="398.1" r="3.8"/><circle cx="592" cy="401.8" r="3.8"/><circle cx="592" cy="405.5" r="3.8"/><circle cx="592" cy="409.2" r="3.8"/><circle cx="592" cy="412.9" r="3.8"/><circle cx="592" cy="416.6" r="3.8"/><circle cx="592" cy="420.3" r="3.8"/><circle cx="592" cy="424" r="3.8"/><circle cx="592" cy="427.7" r="3.8"/><circle cx="592" cy="431.4" r="3.8"/><circle cx="686" cy="436" r="3.8"/><circle cx="592" cy="447" r="3.8"/><circle cx="686" cy="449" r="3.8"/><circle cx="686" cy="452.7" r="3.8"/><circle cx="686" cy="456.4" r="3.8"/><circle cx="686" cy="460.1" r="3.8"/><circle cx="686" cy="463.8" r="3.8"/><circle cx="686" cy="467.5" r="3.8"/><circle cx="686" cy="471.2" r="3.8"/><circle cx="686" cy="474.9" r="3.8"/><circle cx="686" cy="478.6" r="3.8"/></g>
<g class="g"><circle cx="788" cy="440" r="3.8"/><circle cx="788" cy="444" r="3.8"/><circle cx="788" cy="472.5" r="3.8"/><circle cx="788" cy="480.5" r="3.8"/><circle cx="788" cy="484" r="3.8"/><circle cx="788" cy="487.5" r="3.8"/><circle cx="788" cy="490.5" r="3.8"/><circle cx="788" cy="494" r="3.8"/><circle cx="788" cy="497.5" r="3.8"/><circle cx="788" cy="501" r="3.8"/></g>
<g class="b"><circle cx="663" cy="502" r="3.8"/><circle cx="663" cy="505.6" r="3.8"/><circle cx="663" cy="509.2" r="3.8"/><circle cx="663" cy="512.8" r="3.8"/><circle cx="663" cy="516.4" r="3.8"/><circle cx="663" cy="520" r="3.8"/><circle cx="663" cy="523.6" r="3.8"/><circle cx="663" cy="527.2" r="3.8"/><circle cx="663" cy="530.8" r="3.8"/><circle cx="663" cy="534.4" r="3.8"/><circle cx="663" cy="538" r="3.8"/><circle cx="663" cy="541.6" r="3.8"/><circle cx="663" cy="545.2" r="3.8"/><circle cx="663" cy="548.8" r="3.8"/><circle cx="663" cy="552.4" r="3.8"/><circle cx="663" cy="556" r="3.8"/><circle cx="663" cy="559.6" r="3.8"/><circle cx="663" cy="563.2" r="3.8"/></g>
</g>
<g id="axis-left">
<path class="ax" d="M8,575H368M368,575v5M291.6,575v5M215.2,575v5M138.8,575v5M62.4,575v5M352.7,575v3M337.4,575v3M322.2,575v3M306.9,575v3M276.3,575v3M261,575v3M245.8,575v3M230.5,575v3M199.9,575v3M184.6,575v3M169.4,575v3M154.1,575v3M123.5,575v3M108.2,575v3M93,575v3M77.7,575v3M47.1,575v3M31.8,575v3M16.6,575v3"/>
<text class="tk" x="62" y="597">1</text><text class="tk" x="140" y="597">0.75</text><text class="tk" x="216.5" y="597">0.5</text><text class="tk" x="294" y="597">0.25</text><text class="tk" x="370" y="597">0</text>
<text class="ti" x="188" y="616">Time from last sample (years)</text>
</g>
<g id="axis-right">
<path class="ax" d="M428,575H789M789,575v5M713.3,575v5M637.6,575v5M561.9,575v5M486.2,575v5M751.2,575v3M675.5,575v3M599.8,575v3M524.1,575v3M448.4,575v3"/>
<text class="tk" x="486.5" y="597">2</text><text class="tk" x="562.5" y="597">1.5</text><text class="tk" x="637.5" y="597">1</text><text class="tk" x="714" y="597">0.5</text><text class="tk" x="789.5" y="597">0</text>
<text class="ti" x="630" y="616">Time from last sample (years)</text>
</g>
<g id="legend">
<text class="lt" x="376" y="467" text-decoration="underline">Location:</text>
<rect x="375" y="479" width="17" height="17" fill="#e06a68"/><text class="lt" x="404" y="492">Blood Plasma</text>
<rect x="375" y="502" width="17" height="17" fill="#5a60b5"/><text class="lt" x="403" y="514">Seminal Plasma</text>
<rect x="375" y="526" width="17" height="17" fill="#6cc46c"/><text class="lt" x="405" y="540">PBMC</text>
</g>
</svg>
